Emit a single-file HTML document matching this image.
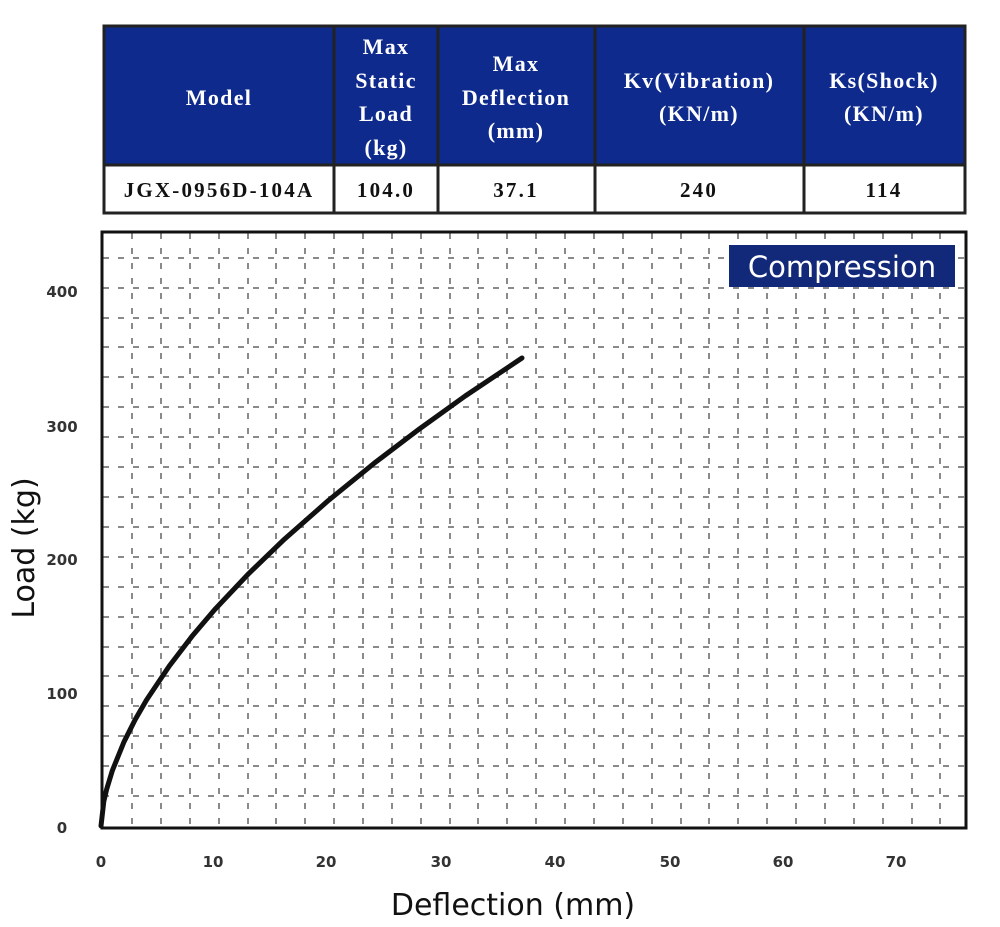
<!DOCTYPE html>
<html><head><meta charset="utf-8"><style>
html,body{margin:0;padding:0;background:#fff;}
svg{display:block;}
</style></head><body>
<svg width="1000" height="927" viewBox="0 0 1000 927" xmlns="http://www.w3.org/2000/svg">
<rect width="1000" height="927" fill="#fff"/>
<!-- table -->
<rect x="104" y="26" width="861" height="139" fill="#0e2a8c"/>
<g stroke="#222" stroke-width="3" fill="none">
<rect x="104" y="26" width="861" height="187"/>
<line x1="104" y1="165" x2="965" y2="165"/>
<line x1="334" y1="26" x2="334" y2="213"/>
<line x1="438" y1="26" x2="438" y2="213"/>
<line x1="595" y1="26" x2="595" y2="213"/>
<line x1="804" y1="26" x2="804" y2="213"/>
</g>
<g font-family="Liberation Serif, serif" font-weight="bold" font-size="22" letter-spacing="1.3" text-anchor="middle" fill="#fff">
<text x="219" y="105">Model</text>
<text x="386" y="54">Max</text><text x="386" y="88">Static</text><text x="386" y="121">Load</text><text x="386" y="155">(kg)</text>
<text x="516" y="71">Max</text><text x="516" y="105">Deflection</text><text x="516" y="138">(mm)</text>
<text x="699" y="88">Kv(Vibration)</text><text x="699" y="121">(KN/m)</text>
<text x="884" y="88">Ks(Shock)</text><text x="884" y="121">(KN/m)</text>
</g>
<g font-family="Liberation Serif, serif" font-weight="bold" font-size="21" letter-spacing="2.2" text-anchor="middle" fill="#111">
<text x="219" y="197">JGX-0956D-104A</text>
<text x="386" y="197">104.0</text>
<text x="516" y="197">37.1</text>
<text x="699" y="197">240</text>
<text x="884" y="197">114</text>
</g>
<!-- grid -->
<g stroke="#8a8a8a" stroke-width="2" stroke-dasharray="6 9">
<path d="M103 796H965M103 766H965M103 736H965M103 706H965M103 676H965M103 647H965M103 617H965M103 587H965M103 557H965M103 527H965M103 497H965M103 467H965M103 437H965M103 407H965M103 377H965M103 347H965M103 318H965M103 288H965M103 258H965"/>
<path d="M132 233V826M161 233V826M190 233V826M219 233V826M248 233V826M276 233V826M305 233V826M334 233V826M363 233V826M392 233V826M421 233V826M450 233V826M478 233V826M507 233V826M536 233V826M565 233V826M594 233V826M623 233V826M652 233V826M681 233V826M709 233V826M738 233V826M767 233V826M796 233V826M825 233V826M854 233V826M883 233V826M912 233V826M940 233V826"/>
</g>
<rect x="102" y="232" width="864" height="596" fill="none" stroke="#111" stroke-width="3"/>
<!-- label box -->
<rect x="729" y="245" width="226" height="42" fill="#12297a"/>
<text x="842" y="277" font-family="DejaVu Sans, sans-serif" font-size="29" fill="#fff" text-anchor="middle">Compression</text>
<!-- curve -->
<polyline fill="none" stroke="#111" stroke-width="5" stroke-linecap="round" stroke-linejoin="round"
points="101,826 103.8,801.4 106.7,789.1 112.4,770.4 123.8,742.3 135.1,719.7 146.5,700 169.3,666 192,636.3 214.8,609.5 248.9,573.4 283.1,540.4 328.6,500.3 374.1,463.3 419.6,428.8 465.2,396 522,358"/>
<!-- ticks -->
<g font-family="DejaVu Sans, sans-serif" font-size="15" font-weight="bold" fill="#333" text-anchor="middle">
<text x="62" y="297">400</text><text x="62" y="432">300</text><text x="62" y="565">200</text><text x="62" y="699">100</text><text x="62" y="833">0</text>
<text x="101" y="867">0</text><text x="213" y="867">10</text><text x="326" y="867">20</text><text x="441" y="867">30</text><text x="555" y="867">40</text><text x="670" y="867">50</text><text x="783" y="867">60</text><text x="896" y="867">70</text>
</g>
<text x="513" y="915" font-family="DejaVu Sans, sans-serif" font-size="30" fill="#111" text-anchor="middle">Deflection (mm)</text>
<text transform="translate(34,548) rotate(-90)" font-family="DejaVu Sans, sans-serif" font-size="30" fill="#111" text-anchor="middle">Load (kg)</text>
</svg>
</body></html>
